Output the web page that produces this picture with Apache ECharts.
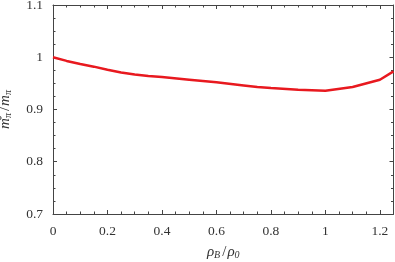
<!DOCTYPE html>
<html><head><meta charset="utf-8">
<script src="https://cdn.jsdelivr.net/npm/echarts@6/dist/echarts.min.js"></script>
<style>html,body{margin:0;padding:0;background:#fff}#c{width:395px;height:262px}</style>
</head><body><div id="c"></div>
<script>
const rho = [0, 0.05, 0.1, 0.15, 0.2, 0.25, 0.3, 0.35, 0.4, 0.5, 0.6, 0.7, 0.75, 0.8, 0.9, 1.0, 1.1, 1.2, 1.25];
const massRatio = [1.0, 0.993, 0.987, 0.982, 0.976, 0.971, 0.967, 0.964, 0.962, 0.957, 0.952, 0.946, 0.943, 0.941, 0.938, 0.936, 0.943, 0.957, 0.973];
const xTicks = [0, 0.2, 0.4, 0.6, 0.8, 1, 1.2];
const yTicks = [0.7, 0.8, 0.9, 1, 1.1];

const font = 'Liberation Serif';
const axisCol = '#444';
function axisBase(type, pos, show) {
  return {
    type: 'value', position: pos,
    axisLine: {show: true, onZero: false, lineStyle: {color: axisCol, width: 1}},
    axisTick: {show: true, inside: true, length: 4, lineStyle: {color: axisCol}},
    minorTick: {show: true, splitNumber: 4, length: 2.5, lineStyle: {color: axisCol}},
    splitLine: {show: false},
    axisLabel: {show: show, fontFamily: font, fontSize: 13.5, color: '#333', showMaxLabel: type === 'y'},
  };
}
const xb = Object.assign(axisBase('x', 'bottom', true), {min: 0, max: 1.25, interval: 0.2,
  name: '{i|ρ}{s|B}{n|/}{i|ρ}{s|0}', nameLocation: 'middle', nameGap: 30,
  nameTextStyle: {rich: {i: {fontFamily: font, fontStyle: 'italic', fontSize: 15, color: '#333'},
    s: {fontFamily: font, fontStyle: 'italic', fontSize: 10, color: '#333', padding: [6, 0, 0, 0]},
    n: {fontFamily: font, fontSize: 15, color: '#333', padding: [0, 1, 0, 2]}}}});
xb.axisLabel.margin = 10;
xb.axisLabel.formatter = v => xTicks.includes(Math.round(v*100)/100) ? String(Math.round(v*10)/10) : '';
const xt = Object.assign(axisBase('x', 'top', false), {min: 0, max: 1.25, interval: 0.2});
const yl = Object.assign(axisBase('y', 'left', true), {min: 0.7, max: 1.1, interval: 0.1,
  name: '{i|m}{p|*}{s|π}{n|/}{i|m}{s|π}', nameLocation: 'middle', nameGap: 40, nameRotate: 90,
  nameTextStyle: {rich: {i: {fontFamily: font, fontStyle: 'italic', fontSize: 15, color: '#333'},
    s: {fontFamily: font, fontStyle: 'italic', fontSize: 10, color: '#333', padding: [6, 0, 0, 0]},
    p: {fontFamily: font, fontSize: 10, color: '#333', padding: [0, 0, 6, 0], width: 0},
    n: {fontFamily: font, fontSize: 15, color: '#333', padding: [0, 1, 0, 2]}}}});
yl.axisLabel.margin = 10;
yl.axisLabel.formatter = v => String(Math.round(v*10)/10);
const yr = Object.assign(axisBase('y', 'right', false), {min: 0.7, max: 1.1, interval: 0.1});

const chart = echarts.init(document.getElementById('c'));
chart.setOption({
  animation: false,
  grid: {left: 53, right: 1.5, top: 5, bottom: 48, outerBoundsMode: 'none', containLabel: false},
  xAxis: [xb, xt],
  yAxis: [yl, yr],
  series: [{type: 'line', data: rho.map((r, i) => [r, massRatio[i]]), showSymbol: false,
    lineStyle: {color: '#e8191f', width: 2.5}, xAxisIndex: 0, yAxisIndex: 0}]
});
</script></body></html>
